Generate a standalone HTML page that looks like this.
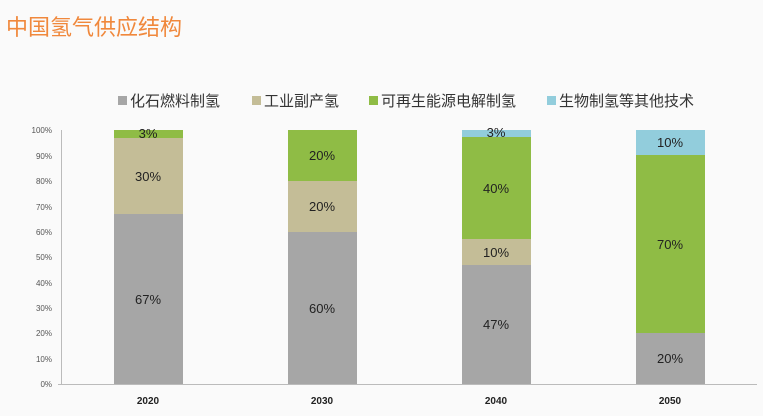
<!DOCTYPE html>
<html><head><meta charset="utf-8"><style>
html,body{margin:0;padding:0;background:#fafafa;}
svg{display:block;font-family:"Liberation Sans","Noto Sans CJK SC",sans-serif;}
</style></head><body>
<svg width="763" height="416" viewBox="0 0 763 416">
<rect width="763" height="416" fill="#fafafa"/>
<text x="6" y="35" font-size="22" fill="#f0883c">中国氢气供应结构</text>
<g font-size="15" fill="#333">
<rect x="118" y="96" width="9" height="9" fill="#a6a6a6"/><text x="130" y="106">化石燃料制氢</text>
<rect x="252" y="96" width="9" height="9" fill="#c4bd97"/><text x="264" y="106">工业副产氢</text>
<rect x="369" y="96" width="9" height="9" fill="#8fbc45"/><text x="381" y="106">可再生能源电解制氢</text>
<rect x="547" y="96" width="9" height="9" fill="#92cddc"/><text x="559" y="106">生物制氢等其他技术</text>
</g>
<g font-size="8" fill="#555" text-anchor="end">
<text x="52" y="387">0%</text><text x="52" y="362">10%</text><text x="52" y="336">20%</text><text x="52" y="311">30%</text><text x="52" y="286">40%</text><text x="52" y="260">50%</text><text x="52" y="235">60%</text><text x="52" y="210">70%</text><text x="52" y="184">80%</text><text x="52" y="159">90%</text><text x="52" y="133">100%</text>
</g>
<g stroke="#bbb" stroke-width="1">
<line x1="61.5" y1="130" x2="61.5" y2="384"/>
<line x1="58" y1="384.5" x2="757" y2="384.5"/>
</g>
<rect x="114" y="214" width="69" height="170" fill="#a6a6a6"/>
<rect x="114" y="138" width="69" height="76" fill="#c4bd97"/>
<rect x="114" y="130" width="69" height="8" fill="#8fbc45"/>
<rect x="288" y="232" width="69" height="152" fill="#a6a6a6"/>
<rect x="288" y="181" width="69" height="51" fill="#c4bd97"/>
<rect x="288" y="130" width="69" height="51" fill="#8fbc45"/>
<rect x="462" y="265" width="69" height="119" fill="#a6a6a6"/>
<rect x="462" y="239" width="69" height="26" fill="#c4bd97"/>
<rect x="462" y="137" width="69" height="102" fill="#8fbc45"/>
<rect x="462" y="130" width="69" height="7" fill="#92cddc"/>
<rect x="636" y="333" width="69" height="51" fill="#a6a6a6"/>
<rect x="636" y="155" width="69" height="178" fill="#8fbc45"/>
<rect x="636" y="130" width="69" height="25" fill="#92cddc"/>
<g font-size="13" fill="#222" text-anchor="middle">
<text x="148" y="138">3%</text><text x="148" y="181">30%</text><text x="148" y="304">67%</text>
<text x="322" y="160">20%</text><text x="322" y="211">20%</text><text x="322" y="313">60%</text>
<text x="496" y="137">3%</text><text x="496" y="193">40%</text><text x="496" y="257">10%</text><text x="496" y="329">47%</text>
<text x="670" y="147">10%</text><text x="670" y="249">70%</text><text x="670" y="363">20%</text>
</g>
<g font-size="10" font-weight="bold" fill="#222" text-anchor="middle">
<text x="148" y="404">2020</text><text x="322" y="404">2030</text><text x="496" y="404">2040</text><text x="670" y="404">2050</text>
</g>
</svg>
</body></html>
